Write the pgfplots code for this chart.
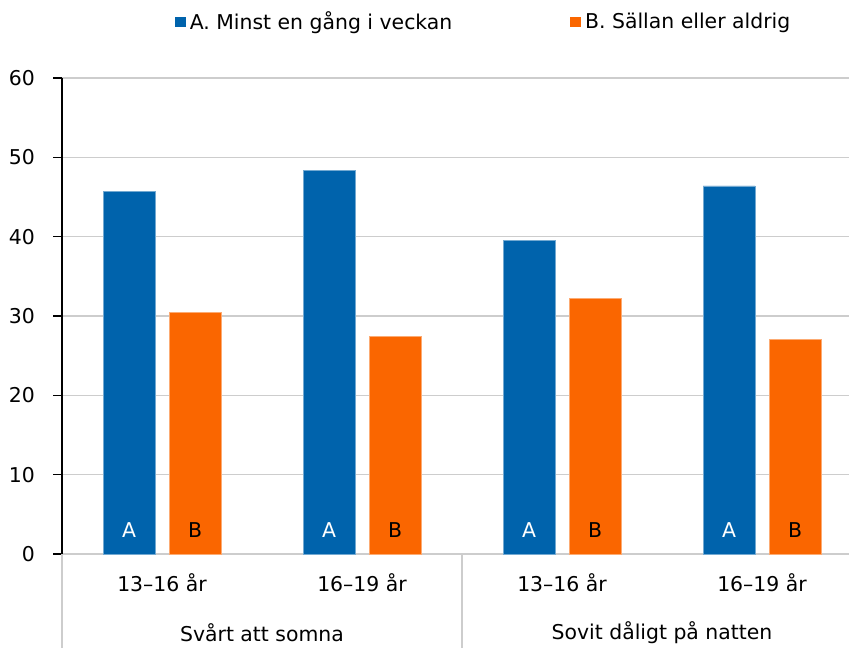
\documentclass[border=0pt]{standalone}
\usepackage{fontspec}
\setmainfont{DejaVu Sans}
\usepackage{pgfplots}
\pgfplotsset{compat=1.18}
\definecolor{cA}{RGB}{0,99,172}
\definecolor{cB}{RGB}{250,102,0}
\definecolor{gridc}{RGB}{205,205,205}
\newcommand{\ff}{\fontsize{10.2}{12}\selectfont}
\begin{document}
\begin{tikzpicture}
\useasboundingbox (-31pt,-47pt) rectangle (393.5pt,277pt);
\begin{axis}[
  at={(0pt,0pt)}, anchor=south west,
  width=393.5pt, height=238pt, scale only axis,
  xmin=-0.5, xmax=3.435, ymin=0, ymax=60,
  ytick={0,10,...,60},
  xtick={0,1,2,3},
  xticklabels={13–16 år,16–19 år,13–16 år,16–19 år},
  axis lines*=left,
  x axis line style={gridc, line width=0.6pt},
  y axis line style={black, line width=0.8pt},
  ymajorgrids, grid style={gridc, line width=0.6pt},
  tick align=outside, major tick length=4.5pt,
  ytick style={black, line width=0.8pt},
  xtick style={draw=none},
  font=\ff,
  ticklabel style={font=\ff},
  xticklabel style={anchor=center, yshift=-10pt},
  yticklabel style={xshift=-5.5pt},
  /pgf/number format/assume math mode=true,
  ybar=7pt, bar width=26pt,
  clip=false,
  point meta=explicit symbolic,
  visualization depends on={y \as \rawy},
  nodes near coords,
  every node near coord/.append style={anchor=center, shift={(axis direction cs:0,-\rawy)}, yshift=12pt, font=\ff},
  legend style={at={(0.537,1.1176)}, anchor=center, draw=none, fill=none,
    legend columns=2, font=\ff,
    /tikz/every even column/.append style={column sep=57pt},
    legend cell align=left},
  legend image code/.code={\path[#1, draw=none] (0pt,-2.7pt) rectangle (5.4pt,2.7pt);},
]
\addplot[fill=cA, draw=cA!55!white, line width=0.4pt, every node near coord/.append style={text=white}] table[meta=l] {
x y l
0 45.7 A
1 48.3 A
2 39.5 A
3 46.4 A
};
\addlegendentry{A. Minst en gång i veckan}
\addplot[fill=cB, draw=cB!55!white, line width=0.4pt, every node near coord/.append style={text=black}] table[meta=l] {
x y l
0 30.4 B
1 27.4 B
2 32.2 B
3 27.1 B
};
\addlegendentry{B. Sällan eller aldrig}
\draw[gridc, line width=0.6pt] (axis cs:-0.5,0) -- ++(0pt,-47pt);
\draw[gridc, line width=0.6pt] (axis cs:1.5,0) -- ++(0pt,-47pt);
\node[font=\ff] at (axis cs:0.5,0) [yshift=-39.5pt] {Svårt att somna};
\node[font=\ff] at (axis cs:2.5,0) [yshift=-39.5pt] {Sovit dåligt på natten};
\end{axis}
\end{tikzpicture}
\end{document}
